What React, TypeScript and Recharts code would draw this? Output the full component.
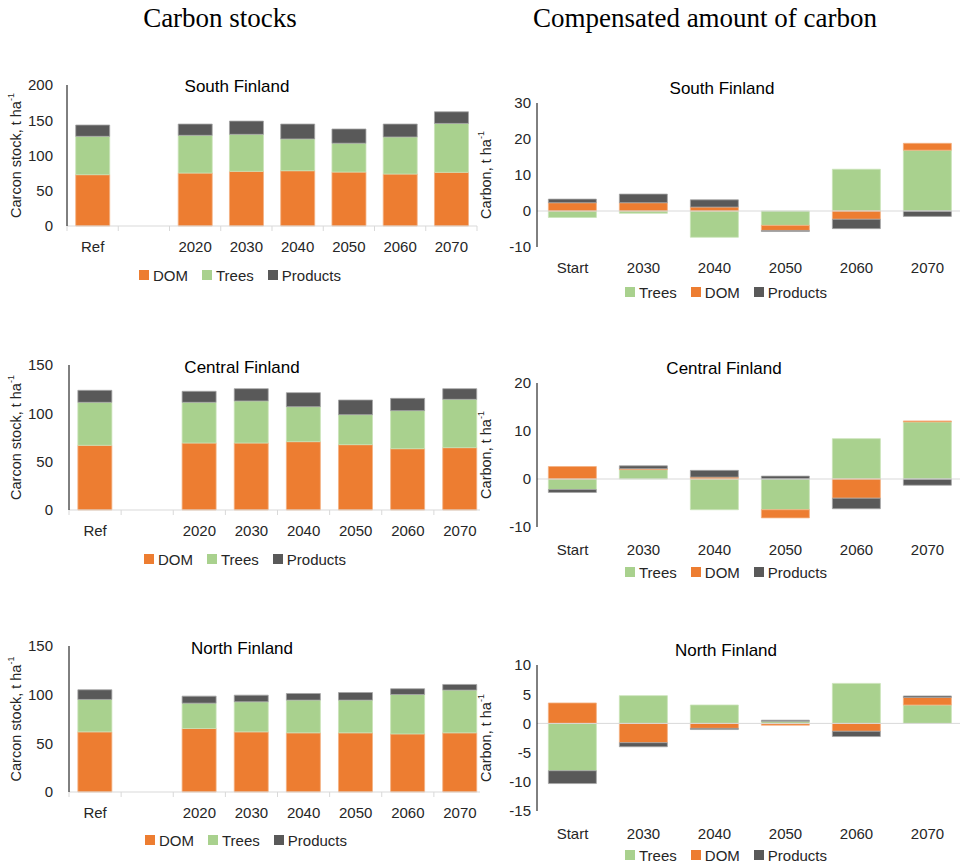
import React from 'react';
import { BarChart, Bar, XAxis, YAxis, Legend, ReferenceLine } from 'recharts';

const FONT = '"Liberation Sans", Arial, sans-serif';
const DOM_COLOR = '#ED7D31';
const TREES_COLOR = '#A9D18E';
const PRODUCTS_COLOR = '#595959';
const TEXT_COLOR = '#262626';
const TICK_SIZE = 15;

// Carbon stocks, t/ha (second slot is an empty spacer)
const stockYears = ['Ref', '', '2020', '2030', '2040', '2050', '2060', '2070'];

const southDom = [72.8, null, 75.1, 77.5, 78.4, 76.5, 73.7, 76.1];
const southTrees = [54.4, null, 53.5, 52.5, 45.1, 40.9, 52.6, 69.4];
const southProducts = [16.0, null, 16.0, 18.8, 21.1, 20.2, 18.3, 16.5];

const centralDom = [66.9, null, 69.3, 69.3, 70.7, 67.6, 63.4, 64.5];
const centralTrees = [44.5, null, 42.1, 43.5, 36.2, 31.0, 39.4, 50.0];
const centralProducts = [12.4, null, 11.4, 12.7, 14.5, 15.2, 12.7, 11.0];

const northDom = [61.8, null, 65.2, 61.8, 60.8, 60.8, 59.7, 60.8];
const northTrees = [33.3, null, 26.1, 30.9, 33.6, 33.6, 40.5, 43.9];
const northProducts = [9.9, null, 7.2, 6.8, 6.8, 7.8, 5.9, 5.8];

// Compensated amount of carbon, t/ha
const compYears = ['Start', '2030', '2040', '2050', '2060', '2070'];

const southCompTrees = [-1.8, -0.65, -7.3, -4.0, 11.6, 16.9];
const southCompDom = [2.3, 2.3, 1.1, -1.4, -2.3, 1.9];
const southCompProducts = [1.0, 2.4, 2.0, -0.3, -2.6, -1.5];

const centralCompTrees = [-2.2, 1.95, -6.4, -6.4, 8.4, 11.9];
const centralCompDom = [2.6, 0.2, 0.4, -1.7, -4.0, 0.2];
const centralCompProducts = [-0.6, 0.6, 1.4, 0.6, -2.2, -1.3];

const northCompTrees = [-8.1, 4.75, 3.15, 0.35, 6.85, 3.15];
const northCompDom = [3.5, -3.3, -0.85, -0.3, -1.35, 1.3];
const northCompProducts = [-2.2, -0.7, -0.2, 0.2, -0.9, 0.25];

const stockRows = (dom: (number | null)[], trees: (number | null)[], products: (number | null)[]) =>
  stockYears.map((year, i) => ({ year, dom: dom[i], trees: trees[i], products: products[i] }));

const compRows = (trees: number[], dom: number[], products: number[]) =>
  compYears.map((year, i) => ({ year, trees: trees[i], dom: dom[i], products: products[i] }));

type Item = { name: string; color: string };

const stockLegend: Item[] = [
  { name: 'DOM', color: DOM_COLOR },
  { name: 'Trees', color: TREES_COLOR },
  { name: 'Products', color: PRODUCTS_COLOR },
];
const compLegend: Item[] = [
  { name: 'Trees', color: TREES_COLOR },
  { name: 'DOM', color: DOM_COLOR },
  { name: 'Products', color: PRODUCTS_COLOR },
];

const LegendRow = ({ items }: { items: Item[] }) => (
  <div style={{ display: 'flex', justifyContent: 'center', alignItems: 'center', height: 24, fontSize: 15, color: TEXT_COLOR, fontFamily: FONT }}>
    {items.map((it) => (
      <div key={it.name} style={{ display: 'flex', alignItems: 'center', margin: '0 7px' }}>
        <span style={{ width: 10, height: 10, background: it.color, marginRight: 4, display: 'inline-block' }} />
        <span>{it.name}</span>
      </div>
    ))}
  </div>
);

// rotated axis title with a superscript "-1"
const axisTitle = (text: string, cx: number) => (props: any) => {
  const vb = props.viewBox || {};
  const cy = (vb.y ?? 0) + (vb.height ?? 0) / 2;
  return (
    <text
      x={cx}
      y={cy}
      transform={`rotate(-90 ${cx} ${cy})`}
      textAnchor="middle"
      dominantBaseline="central"
      fontSize={14.5}
      fill={TEXT_COLOR}
      fontFamily={FONT}
    >
      {text}
      <tspan dy={-5} fontSize={9}>-1</tspan>
    </text>
  );
};

// category label plus small tick marks on the slot boundaries
const StockTick = (props: any) => {
  const { x, y, payload, index, slot } = props;
  const last = index === stockYears.length - 1;
  return (
    <g>
      <line x1={x - slot / 2} x2={x - slot / 2} y1={y} y2={y + 5} stroke="#d9d9d9" />
      {last && <line x1={x + slot / 2} x2={x + slot / 2} y1={y} y2={y + 5} stroke="#d9d9d9" />}
      <text x={x} y={y + 15} dy="0.71em" textAnchor="middle" fontSize={TICK_SIZE} fill={TEXT_COLOR} fontFamily={FONT}>
        {payload.value}
      </text>
    </g>
  );
};

const Title = ({ text, cx, cy }: { text: string; cx: number; cy: number }) => (
  <div
    style={{
      position: 'absolute',
      left: cx - 100,
      top: cy - 10,
      width: 200,
      textAlign: 'center',
      fontSize: 17,
      lineHeight: '20px',
      color: '#000',
      fontFamily: FONT,
      pointerEvents: 'none',
    }}
  >
    {text}
  </div>
);

type StockProps = {
  title: string;
  rows: any[];
  max: number;
  ticks: number[];
  top: number;
  height: number;
  marginTop: number;
  marginRight: number;
  marginBottom: number;
  axisWidth: number;
  xAxisHeight: number;
  tickGap: number;
  legendWidth: number;
  titleX: number;
  titleY: number;
};

const StockChart = (p: StockProps) => {
  const chartWidth = 490;
  const slot = (chartWidth - p.axisWidth - p.marginRight) / stockYears.length;
  return (
    <div style={{ position: 'absolute', left: 0, top: p.top, width: 480, height: p.height, overflow: 'hidden' }}>
      <BarChart
        width={chartWidth}
        height={p.height}
        data={p.rows}
        margin={{ top: p.marginTop, right: p.marginRight, left: 0, bottom: p.marginBottom }}
        barCategoryGap="17%"
      >
        <XAxis
          dataKey="year"
          height={p.xAxisHeight}
          axisLine={{ stroke: '#d9d9d9' }}
          tickLine={false}
          tickSize={0}
          tickMargin={0}
          interval={0}
          tick={(t: any) => <StockTick {...t} slot={slot} />}
        />
        <YAxis
          width={p.axisWidth}
          domain={[0, p.max]}
          ticks={p.ticks}
          axisLine={{ stroke: '#000' }}
          tickLine={false}
          tickSize={0}
          tickMargin={p.tickGap}
          tick={{ fontSize: TICK_SIZE, fill: TEXT_COLOR }}
          label={axisTitle('Carcon stock, t ha', 16)}
        />
        <Legend
          verticalAlign="bottom"
          height={25}
          wrapperStyle={{ left: 0, width: p.legendWidth }}
          content={() => <LegendRow items={stockLegend} />}
        />
        <Bar dataKey="dom" stackId="s" fill={DOM_COLOR} stroke="#f4b183" strokeWidth={0.8} isAnimationActive={false} />
        <Bar dataKey="trees" stackId="s" fill={TREES_COLOR} stroke="#c9e3b8" strokeWidth={0.8} isAnimationActive={false} />
        <Bar dataKey="products" stackId="s" fill={PRODUCTS_COLOR} stroke="#a6a6a6" strokeWidth={0.8} isAnimationActive={false} />
      </BarChart>
      <Title text={p.title} cx={p.titleX} cy={p.titleY} />
    </div>
  );
};

type CompProps = {
  title: string;
  rows: any[];
  domain: [number, number];
  ticks: number[];
  top: number;
  height: number;
  clipHeight: number;
  marginTop: number;
  marginBottom: number;
  xAxisHeight: number;
  labelGap: number;
  titleX: number;
  titleY: number;
};

const CompChart = (p: CompProps) => (
  <div style={{ position: 'absolute', left: 470, top: p.top, width: 490, height: p.clipHeight, overflow: 'hidden' }}>
    <BarChart
      width={500}
      height={p.height}
      data={p.rows}
      stackOffset="sign"
      margin={{ top: p.marginTop, right: 7, left: 0, bottom: p.marginBottom }}
      barCategoryGap="16%"
    >
      <XAxis
        dataKey="year"
        height={p.xAxisHeight}
        axisLine={false}
        tickLine={false}
        tickSize={0}
        tickMargin={p.labelGap}
        interval={0}
        tick={{ fontSize: TICK_SIZE, fill: TEXT_COLOR }}
      />
      <YAxis
        width={67}
        domain={p.domain}
        ticks={p.ticks}
        axisLine={{ stroke: '#000' }}
        tickLine={false}
        tickSize={0}
        tickMargin={6}
        tick={{ fontSize: TICK_SIZE, fill: TEXT_COLOR }}
        label={axisTitle('Carbon, t ha', 16)}
      />
      <Legend
        verticalAlign="bottom"
        height={24}
        wrapperStyle={{ left: 0, width: 512 }}
        content={() => <LegendRow items={compLegend} />}
      />
      <ReferenceLine y={0} stroke="#d9d9d9" />
      <Bar dataKey="trees" stackId="c" fill={TREES_COLOR} stroke="#c9e3b8" strokeWidth={0.8} isAnimationActive={false} />
      <Bar dataKey="dom" stackId="c" fill={DOM_COLOR} stroke="#f4b183" strokeWidth={0.8} isAnimationActive={false} />
      <Bar dataKey="products" stackId="c" fill={PRODUCTS_COLOR} stroke="#a6a6a6" strokeWidth={0.8} isAnimationActive={false} />
    </BarChart>
    <Title text={p.title} cx={p.titleX} cy={p.titleY} />
  </div>
);

const headingStyle: React.CSSProperties = {
  position: 'absolute',
  top: 5,
  fontSize: 27,
  lineHeight: '27px',
  textAlign: 'center',
  color: '#000',
  fontFamily: '"Liberation Serif", "Times New Roman", serif',
};

export default function App() {
  return (
    <div style={{ position: 'absolute', left: 0, top: 0, width: 960, height: 862, background: '#fff', overflow: 'hidden', fontFamily: FONT }}>
      <div style={{ ...headingStyle, left: 0, width: 440 }}>Carbon stocks</div>
      <div style={{ ...headingStyle, left: 480, width: 450 }}>Compensated amount of carbon</div>

      <StockChart
        title="South Finland"
        rows={stockRows(southDom, southTrees, southProducts)}
        max={200}
        ticks={[0, 50, 100, 150, 200]}
        top={60}
        height={230}
        marginTop={25}
        marginRight={13}
        marginBottom={2}
        axisWidth={67}
        xAxisHeight={37}
        tickGap={14}
        legendWidth={480}
        titleX={237}
        titleY={27}
      />
      <StockChart
        title="Central Finland"
        rows={stockRows(centralDom, centralTrees, centralProducts)}
        max={150}
        ticks={[0, 50, 100, 150]}
        top={340}
        height={235}
        marginTop={25}
        marginRight={4}
        marginBottom={3}
        axisWidth={69}
        xAxisHeight={37}
        tickGap={16}
        legendWidth={490}
        titleX={242}
        titleY={28}
      />
      <StockChart
        title="North Finland"
        rows={stockRows(northDom, northTrees, northProducts)}
        max={150}
        ticks={[0, 50, 100, 150]}
        top={620}
        height={235}
        marginTop={26}
        marginRight={4}
        marginBottom={2}
        axisWidth={69}
        xAxisHeight={36}
        tickGap={16}
        legendWidth={492}
        titleX={242}
        titleY={29}
      />

      <CompChart
        title="South Finland"
        rows={compRows(southCompTrees, southCompDom, southCompProducts)}
        domain={[-10, 30]}
        ticks={[-10, 0, 10, 20, 30]}
        top={60}
        height={250}
        clipHeight={250}
        marginTop={43}
        marginBottom={6}
        xAxisHeight={33}
        labelGap={15}
        titleX={252}
        titleY={29}
      />
      <CompChart
        title="Central Finland"
        rows={compRows(centralCompTrees, centralCompDom, centralCompProducts)}
        domain={[-10, 20]}
        ticks={[-10, 0, 10, 20]}
        top={340}
        height={250}
        clipHeight={250}
        marginTop={43}
        marginBottom={6}
        xAxisHeight={33}
        labelGap={17}
        titleX={254}
        titleY={29}
      />
      <CompChart
        title="North Finland"
        rows={compRows(northCompTrees, northCompDom, northCompProducts)}
        domain={[-15, 10]}
        ticks={[-15, -10, -5, 0, 5, 10]}
        top={620}
        height={250}
        clipHeight={242}
        marginTop={45}
        marginBottom={3}
        xAxisHeight={32}
        labelGap={17}
        titleX={256}
        titleY={31}
      />
    </div>
  );
}
